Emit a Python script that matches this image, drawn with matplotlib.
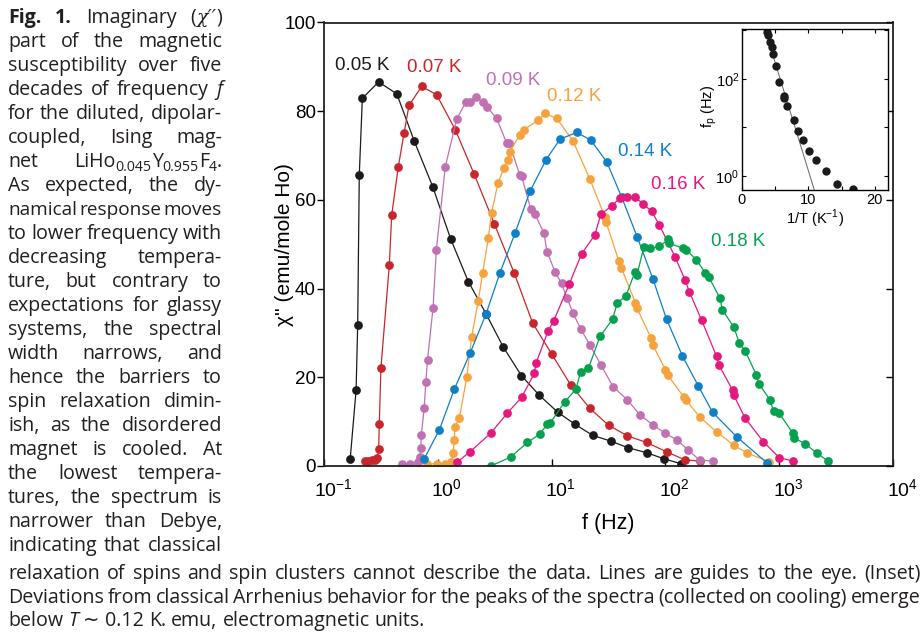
import re
import numpy as np
import matplotlib
matplotlib.use('Agg')
import matplotlib.pyplot as plt
from matplotlib.ticker import NullLocator
from matplotlib.transforms import IdentityTransform, ScaledTranslation

plt.rcParams['font.family'] = ['Liberation Sans', 'DejaVu Sans']

# ---- data (log10 of f in Hz, chi'' in emu/mole Ho) ----
temps = ['0.05 K', '0.07 K', '0.09 K', '0.12 K', '0.14 K', '0.16 K', '0.18 K']
colors = ['#1c1a1b', '#c8262c', '#c170b1', '#f6a23d', '#0f80c6', '#e5187d', '#04a24f']

logf_005 = [-0.77, -0.718, -0.704, -0.69, -0.663, -0.52, -0.36, -0.206, -0.045, 0.113,
            0.268, 0.424, 0.576, 0.734, 0.89, 1.055, 1.206, 1.361, 1.522, 1.674, 1.835,
            1.99, 2.14]
chi_005 = [1.5, 17.1, 31.7, 65.6, 82.9, 86.6, 83.9, 73.2, 63.0, 51.2,
           41.6, 34.3, 26.8, 20.4, 16.0, 12.1, 9.4, 6.9, 5.6, 4.1, 3.0,
           1.6, 0.5]

logf_007 = [-0.64, -0.61, -0.58, -0.55, -0.53, -0.52, -0.514, -0.50, -0.426, -0.405,
            -0.347, -0.297, -0.253, -0.142, -0.01, 0.154, 0.318, 0.497, 0.67, 0.834,
            1.0, 1.167, 1.336, 1.5, 1.666, 1.835, 2.01, 2.17, 2.3]
chi_007 = [1.2, 1.2, 1.4, 1.4, 1.8, 3.8, 9.5, 22.0, 45.3, 56.6,
           67.5, 75.0, 81.3, 85.6, 83.7, 75.8, 65.9, 54.6, 43.6, 32.2,
           25.3, 18.3, 13.0, 9.2, 6.8, 5.3, 3.2, 1.4, 1.1]

logf_009 = [-0.317, -0.244, -0.17, -0.156, -0.15, -0.145, -0.12, -0.105, -0.09, -0.042,
            -0.013, 0.066, 0.166, 0.245, 0.283, 0.336, 0.394, 0.43, 0.517, 0.605,
            0.63, 0.72, 0.737, 0.816, 0.854, 0.933, 0.96, 1.03, 1.087, 1.137,
            1.19, 1.254, 1.336, 1.433, 1.54, 1.666, 1.777, 1.895, 1.997, 2.1,
            2.2, 2.3, 2.415]
chi_009 = [0.5, 0.5, 0.8, 2.0, 4.0, 7.0, 13.0, 19.0, 24.0, 35.6,
           48.7, 67.5, 78.2, 82.0, 82.0, 83.2, 82.0, 81.0, 78.4, 72.8,
           72.8, 65.6, 65.3, 58.0, 56.8, 52.5, 48.3, 43.8, 41.2, 37.8,
           34.4, 31.0, 27.3, 22.8, 17.9, 14.9, 11.5, 9.2, 7.4, 5.9,
           3.6, 1.35, 1.1]

logf_012 = [-0.098, -0.01, 0.063, 0.12, 0.135, 0.145, 0.15, 0.19, 0.254, 0.297,
            0.356, 0.394, 0.444, 0.473, 0.53, 0.58, 0.614, 0.634, 0.722, 0.757,
            0.883, 0.94, 1.045, 1.19, 1.336, 1.468, 1.477, 1.59, 1.614, 1.737,
            1.75, 1.875, 1.89, 2.0, 2.02, 2.16, 2.18, 2.3, 2.45, 2.6,
            2.72, 2.91]
chi_012 = [0.5, 0.5, 0.5, 1.0, 3.0, 5.9, 8.9, 10.8, 20.0, 29.0,
           37.3, 43.5, 51.4, 57.1, 63.9, 67.1, 68.9, 70.9, 74.7, 75.8,
           78.0, 79.5, 78.4, 73.2, 64.7, 56.2, 55.1, 46.3, 44.6, 36.8,
           35.6, 28.8, 27.3, 21.7, 20.5, 15.6, 14.9, 11.1, 7.7, 4.7,
           2.9, 1.0]

logf_014 = [-0.12, 0.013, 0.145, 0.283, 0.424, 0.547, 0.68, 0.81, 0.95, 1.074,
            1.22, 1.343, 1.484, 1.616, 1.753, 1.89, 2.01, 2.15, 2.29, 2.415,
            2.626, 2.89]
chi_014 = [1.6, 8.1, 17.3, 25.4, 34.3, 43.6, 52.6, 61.9, 69.0, 73.7,
           75.2, 73.5, 68.6, 60.6, 51.6, 42.2, 33.1, 24.8, 18.0, 12.1,
           6.6, 0.75]

logf_016 = [0.166, 0.283, 0.465, 0.61, 0.737, 0.848, 0.863, 0.97, 1.02, 1.155,
            1.263, 1.38, 1.433, 1.527, 1.6, 1.666, 1.733, 1.806, 1.879, 1.946,
            2.084, 2.172, 2.21, 2.318, 2.45, 2.47, 2.59, 2.6, 2.7, 2.86,
            3.0, 3.12]
chi_016 = [0.8, 3.2, 7.4, 11.9, 15.5, 20.9, 23.2, 30.5, 32.8, 41.0,
           47.8, 52.1, 56.8, 58.6, 60.4, 60.6, 60.6, 59.1, 57.4, 54.4,
           47.2, 42.0, 39.3, 32.9, 24.7, 22.8, 17.1, 16.0, 10.8, 5.5,
           1.9, 1.1]

logf_018 = [0.465, 0.64, 0.787, 0.898, 0.962, 0.99, 1.117, 1.214, 1.255, 1.323,
            1.425, 1.536, 1.577, 1.653, 1.733, 1.75, 1.81, 1.868, 1.947, 2.027,
            2.035, 2.155, 2.184, 2.272, 2.35, 2.38, 2.48, 2.5, 2.6, 2.65,
            2.7, 2.8, 2.82, 2.92, 2.95, 3.0, 3.12, 3.13, 3.23, 3.33,
            3.43]
chi_018 = [0.0, 2.0, 5.3, 7.2, 9.5, 9.8, 14.5, 17.3, 21.3, 22.0,
           29.2, 33.1, 36.8, 38.3, 43.8, 43.1, 49.3, 49.1, 49.5, 51.1,
           50.2, 49.1, 48.7, 46.5, 43.6, 42.7, 37.8, 35.2, 31.4, 27.7,
           26.0, 20.5, 18.6, 14.9, 12.3, 11.9, 7.4, 6.3, 5.0, 2.9,
           1.1]

all_logf = [logf_005, logf_007, logf_009, logf_012, logf_014, logf_016, logf_018]
all_chi = [chi_005, chi_007, chi_009, chi_012, chi_014, chi_016, chi_018]

# curve label anchors (log10 f, chi'')
label_logf = [-0.666, -0.033, 0.66, 1.2, 1.82, 2.11, 2.64]
label_chi = [90.3, 89.8, 86.9, 83.3, 71.0, 63.4, 50.6]

# inset: peak frequency vs 1/T
inset_invT = [3.74, 3.9, 4.24, 4.45, 4.65, 5.1, 5.55, 6.27, 6.36, 6.77,
              7.78, 8.44, 9.14, 10.1, 11.2, 12.6, 14.3, 16.8]
inset_fp = [944, 813, 589, 447, 331, 186, 87, 44.7, 39.8, 27.5,
            14.1, 8.5, 5.4, 3.3, 2.1, 1.29, 0.69, 0.54]
# Arrhenius line: log10 fp = a + b / T
arr_a = 4.56
arr_b = -0.445
arr_invT = [3.3, 11.0]

fig = plt.figure(figsize=(9.24, 6.32), dpi=100)
W, H = 924.0, 632.0

# ---- main plot ----
ax = fig.add_axes([324 / W, 1 - 466 / H, 569 / W, 443.5 / H])
for lf, ch, c in zip(all_logf, all_chi, colors):
    ax.plot(10 ** np.array(lf), ch, '-o', color=c, lw=0.9, ms=6.3, mec=c, mew=0)
for t, lf, ch, c in zip(temps, label_logf, label_chi, colors):
    ax.text(10 ** lf, ch, t, color=c, ha='center', va='center', fontsize=13.5)

ax.set_xscale('log')
ax.set_xlim(0.1, 1e4)
ax.set_ylim(0, 100)
ax.set_xticks([0.1, 1, 10, 100, 1000, 10000])
ax.set_xticklabels([r'$\mathregular{10^{%d}}$' % k for k in range(-1, 5)])
ax.xaxis.set_minor_locator(NullLocator())
ax.set_yticks([0, 20, 40, 60, 80, 100])
ax.tick_params(axis='x', direction='in', length=5, width=1, labelsize=14, pad=9)
ax.tick_params(axis='y', direction='out', length=5, width=1, labelsize=13.5, pad=1)
shift = ScaledTranslation(0.09, 0, fig.dpi_scale_trans)
for lab in ax.get_xticklabels():
    lab.set_transform(lab.get_transform() + shift)
for s in ax.spines.values():
    s.set_linewidth(1.3)
    s.set_color('#222222')

axr = ax.twinx()
axr.set_ylim(0, 100)
axr.set_yticks([0, 20, 40, 60, 80, 100])
axr.tick_params(axis='y', direction='in', length=5, width=1, labelright=False)
axr.spines[:].set_visible(False)

fig.text(608 / W, 1 - 523 / H, 'f (Hz)', ha='center', va='center', fontsize=15.5)
fig.text(284 / W, 1 - 245 / H, "χ'' (emu/mole Ho)", ha='center', va='center',
         rotation=90, fontsize=15)

# ---- inset ----
axi = fig.add_axes([742 / W, 1 - 190 / H, 146 / W, 161 / H])
axi.set_facecolor('white')
xl = np.array(arr_invT)
axi.plot(xl, 10 ** (arr_a + arr_b * xl), color='#666666', lw=0.7)
axi.plot(inset_invT, inset_fp, 'o', color='#1c1a1b', ms=6, mew=0)
axi.set_yscale('log')
axi.set_xlim(0, 22)
axi.set_ylim(0.514, 1072)
axi.set_xticks([0, 5, 10, 15, 20])
axi.set_xticklabels(['0', '', '10', '', '20'])
axi.set_yticks([1, 10, 100, 1000])
axi.set_yticklabels([r'$\mathregular{10^0}$', '', r'$\mathregular{10^2}$', ''])
axi.yaxis.set_minor_locator(NullLocator())
axi.tick_params(direction='in', top=True, right=True, length=3, width=0.8,
                labelsize=10.5, pad=2)
for s in axi.spines.values():
    s.set_linewidth(1.0)
axi.set_xlabel(r'1/T (K$^\mathregular{-1}$)', fontsize=10.5, labelpad=1)
fig.text(709 / W, 1 - 106 / H, r'$\mathregular{f_p}$ (Hz)', ha='center', va='center',
         rotation=90, fontsize=10.5)

# ---- caption, set word by word so the lines can be justified ----
cap_family = ['Open Sans', 'DejaVu Sans']
cap_size = 14.1

side_lines = [
    "{b:Fig.} {b:1.} Imaginary ({m:χ′′})",
    "part of the magnetic",
    "susceptibility over five",
    "decades of frequency {i:f}",
    "for the diluted, dipolar-",
    "coupled, Ising mag-",
    "net LiHo{s:0.045}Y{s:0.955}F{s:4}.",
    "As expected, the dy-",
    "namical response moves",
    "to lower frequency with",
    "decreasing tempera-",
    "ture, but contrary to",
    "expectations for glassy",
    "systems, the spectral",
    "width narrows, and",
    "hence the barriers to",
    "spin relaxation dimin-",
    "ish, as the disordered",
    "magnet is cooled. At",
    "the lowest tempera-",
    "tures, the spectrum is",
    "narrower than Debye,",
    "indicating that classical",
]
bottom_lines = [
    "relaxation of spins and spin clusters cannot describe the data. Lines are guides to the eye. (Inset)",
    "Deviations from classical Arrhenius behavior for the peaks of the spectra (collected on cooling) emerge",
    "below {i:T} ∼ 0.12 K. emu, electromagnetic units.",
]

renderer = fig.canvas.get_renderer()


def piece_style(kind, size):
    st = dict(family=cap_family, fontsize=size, color='#231f20')
    if kind == 'b':
        st['weight'] = 'bold'
    elif kind == 'i':
        st['style'] = 'italic'
    elif kind == 'm':
        st['family'] = ['DejaVu Serif']
        st['style'] = 'italic'
        st['fontsize'] = size - 0.5
    elif kind == 's':
        st['fontsize'] = size * 0.72
    return st


def text_width(s, **st):
    t = fig.text(0, 0, s, transform=IdentityTransform(), **st)
    w = t.get_window_extent(renderer).width
    t.remove()
    return w


def draw_line(line, x0, x1, y_top, justify=True, size=cap_size):
    yb = H - y_top
    space_w = (text_width('a a', **piece_style('n', size))
               - text_width('aa', **piece_style('n', size)))
    words = []
    for word in line.split(' '):
        parts = []
        for kind, txt, plain in re.findall(r'\{(\w):([^}]*)\}|([^{]+)', word):
            if plain:
                kind, txt = 'n', plain
            t = fig.text(0, 0, txt, transform=IdentityTransform(), ha='left',
                         va='baseline', **piece_style(kind, size))
            parts.append((t, t.get_window_extent(renderer).width, kind))
        words.append(parts)
    widths = [sum(p[1] for p in w) for w in words]
    need = sum(widths) + 0.45 * space_w * (len(words) - 1)
    if justify and need > x1 - x0:
        # too wide for the column: redo a little smaller
        for parts in words:
            for t, w, k in parts:
                t.remove()
        draw_line(line, x0, x1, y_top, justify, size * (x1 - x0) / need)
        return
    gap = space_w
    if justify and len(words) > 1:
        gap = (x1 - x0 - sum(widths)) / (len(words) - 1)
    x = x0
    for parts, ww in zip(words, widths):
        xx = x
        for t, w, kind in parts:
            t.set_position((xx, yb - (4 if kind == 's' else 0)))
            xx += w
        x += ww + gap


for i, line in enumerate(side_lines):
    draw_line(line, 8, 222, 23 + 24 * i)
draw_line(bottom_lines[0], 8, 921, 579)
draw_line(bottom_lines[1], 8, 921, 603)
draw_line(bottom_lines[2], 8, 921, 626, justify=False)

fig.savefig('out.png', dpi=100)
